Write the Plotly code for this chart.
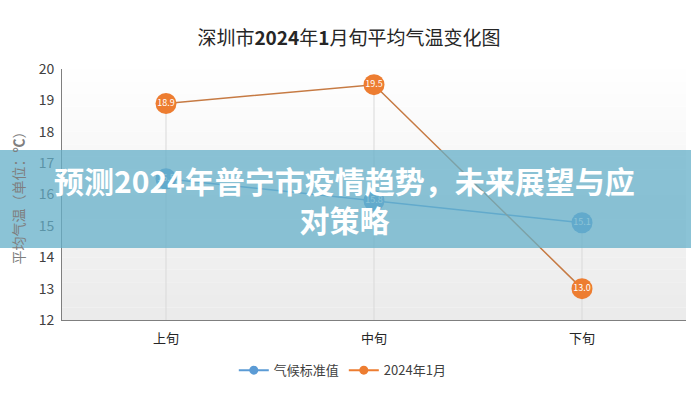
import plotly.graph_objects as go

categories = ["上旬", "中旬", "下旬"]
normal_values = [16.5, 15.8, 15.1]
jan_2024_values = [18.9, 19.5, 13.0]

title_text = "深圳市<b>2024</b>年<b>1</b>月旬平均气温变化图"
banner_text = "预测2024年普宁市疫情趋势，未来展望与应<br>对策略"
y_title = "平均气温（单位：<b>℃</b>）"

FONT = "Noto Sans CJK SC"
BLUE = "#5b9bd5"
ORANGE = "#ed7d31"

fig = go.Figure()

# drop lines from the highest point of each category down to the axis
for cat, a, b in zip(categories, normal_values, jan_2024_values):
    fig.add_trace(go.Scatter(
        x=[cat, cat], y=[12, max(a, b)], mode="lines",
        line=dict(color="#d9d9d9", width=1),
        showlegend=False, hoverinfo="skip",
    ))

series = [("气候标准值", normal_values, BLUE, BLUE),
          ("2024年1月", jan_2024_values, "#c67a43", ORANGE)]

for name, values, lcol, mcol in series:
    fig.add_trace(go.Scatter(
        x=categories, y=values, name=name,
        mode="lines+markers+text", showlegend=False,
        line=dict(color=lcol, width=1.5),
        marker=dict(size=21, color=mcol),
        text=[f"{v:.1f}" for v in values],
        textposition="middle center",
        textfont=dict(color="white", size=9, family=FONT),
    ))
    # small legend entry
    fig.add_trace(go.Scatter(
        x=[None], y=[None], name=name, mode="lines+markers",
        line=dict(color=mcol, width=2), marker=dict(size=9, color=mcol),
    ))

# soft vertical gradient behind the plot
shapes = []
n = 20
for i in range(n):
    g = int(255 - 20 * (1 - (i + 0.5) / n))
    shapes.append(dict(
        type="rect", xref="x domain", yref="y domain",
        x0=0, x1=1, y0=i / n, y1=(i + 1) / n,
        fillcolor=f"rgb({g},{g},{g})", line=dict(width=0), layer="below",
    ))

# translucent banner across the chart
shapes.append(dict(
    type="rect", xref="paper", yref="paper",
    x0=-0.2, x1=1.2, y0=0.287, y1=0.677,
    fillcolor="rgba(100,175,200,0.75)", line=dict(width=0), layer="above",
))

fig.update_layout(
    width=691, height=400,
    margin=dict(l=62, r=5, t=69, b=80),
    paper_bgcolor="white",
    plot_bgcolor="white",
    font=dict(family=FONT, color="#595959"),
    title=dict(text=title_text, x=0.505, xref="container", y=0.905, yanchor="middle",
               font=dict(size=19, color="#262626", family=FONT)),
    shapes=shapes,
    showlegend=True,
    legend=dict(orientation="h", x=0.45, xanchor="center", y=-0.2, yanchor="middle",
                font=dict(size=13, color="#404040", family=FONT)),
    annotations=[dict(
        text=banner_text, xref="paper", yref="paper", x=0.4535, y=0.482,
        showarrow=False, align="center",
        font=dict(size=30, color="white", family=FONT, weight="bold"),
    )],
)

fig.update_xaxes(
    showline=True, linecolor="#7f7f7f", linewidth=1,
    showgrid=False, ticks="", tickfont=dict(size=13, color="#262626"),
    ticklabelstandoff=6, range=[-0.5, 2.5],
)
fig.update_yaxes(
    range=[12, 20], dtick=1, showgrid=False,
    showline=True, linecolor="#7f7f7f", linewidth=1,
    tickfont=dict(size=14, color="#404040"), ticks="", ticklabelstandoff=4,
    title=dict(text=y_title, font=dict(size=14, color="#7f7f7f"), standoff=10),
)

fig.write_html("out.html", config={"displayModeBar": False},
               post_script="document.body.style.margin='0';")
